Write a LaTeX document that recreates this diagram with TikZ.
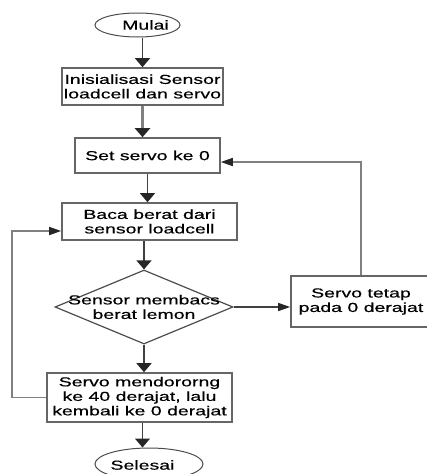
\documentclass[tikz,border=0pt]{standalone}
\usepackage{fontspec}
\setmainfont[FakeStretch=1.5,FakeBold=0.4]{Liberation Sans}
\usetikzlibrary{shapes.geometric,arrows.meta}
\begin{document}
\begin{tikzpicture}[x=1pt,y=-1pt,
    txt/.style={align=center, inner sep=0pt, font=\fontsize{13}{14.5}\selectfont},
    box/.style={txt, draw=black!60, line width=1.6pt, fill=white},
    term/.style={ellipse, draw=black!70, line width=1pt, inner sep=0pt},
    decision/.style={diamond, draw=black!70, line width=1.2pt, inner sep=0pt},
    varr/.style={-{Triangle[length=9pt,width=15pt,color=black!85]}, line width=1.3pt, draw=black!75},
    harr/.style={-{Triangle[length=12pt,width=8pt,color=black!85]}, line width=1.3pt, draw=black!75},
    loopline/.style={draw=black!50, line width=1.6pt}]
    \useasboundingbox (0,0) rectangle (427,474);
    \node[term, minimum width=85pt, minimum height=24pt] (mulai) at (137.5,25) {};
    \node[txt] (mulaitxt) at (145.5,25) {Mulai};
    \node[box, minimum width=161pt, minimum height=37pt] (init) at (142.5,86.5) {Inisialisasi Sensor\\loadcell dan servo};
    \node[box, minimum width=145pt, minimum height=35pt] (setservo) at (147.5,155.5) {Set servo ke 0};
    \node[box, minimum width=175pt, minimum height=37pt] (baca) at (149.5,221.5) {Baca berat dari\\sensor loadcell};
    \node[decision, minimum width=178pt, minimum height=74pt] (cek) at (144,307) {};
    \node[txt] (cektxt) at (144,307) {Sensor membacs\\berat lemon};
    \node[box, minimum width=140pt, minimum height=51pt] (tetap) at (361,301.5) {Servo tetap\\pada 0 derajat};
    \node[box, minimum width=185pt, minimum height=49pt] (servo) at (139.5,397.5) {Servo mendororng\\ke 40 derajat, lalu\\kembali ke 0 derajat};
    \node[term, minimum width=108pt, minimum height=32pt] (selesai) at (149,464) {};
    \node[txt] (selesaitxt) at (142.5,465) {Selesai};

    \draw[varr] (mulai.south -| init.north) -- (init.north);
    \draw[varr, draw=black!50, line width=2.6pt] (init.south) -- (init.south |- setservo.north);
    \draw[varr] (setservo.south) -- (setservo.south |- baca.north);
    \draw[varr] (baca.south -| cek.north) -- (cek.north);
    \draw[varr] (cek.south) -- (cek.south |- servo.north);
    \draw[varr] (selesaitxt |- servo.south) -- (selesaitxt |- selesai.north);
    \draw[harr] (cek.east) -- (cek.east -| tetap.west);
    \draw[harr, loopline] (tetap.north) |- ([yshift=-6.5pt]setservo.east);
    \draw[harr, loopline] (servo.west) -- ++(-34,0) |- ([yshift=-9.5pt]baca.west);
\end{tikzpicture}
\end{document}
